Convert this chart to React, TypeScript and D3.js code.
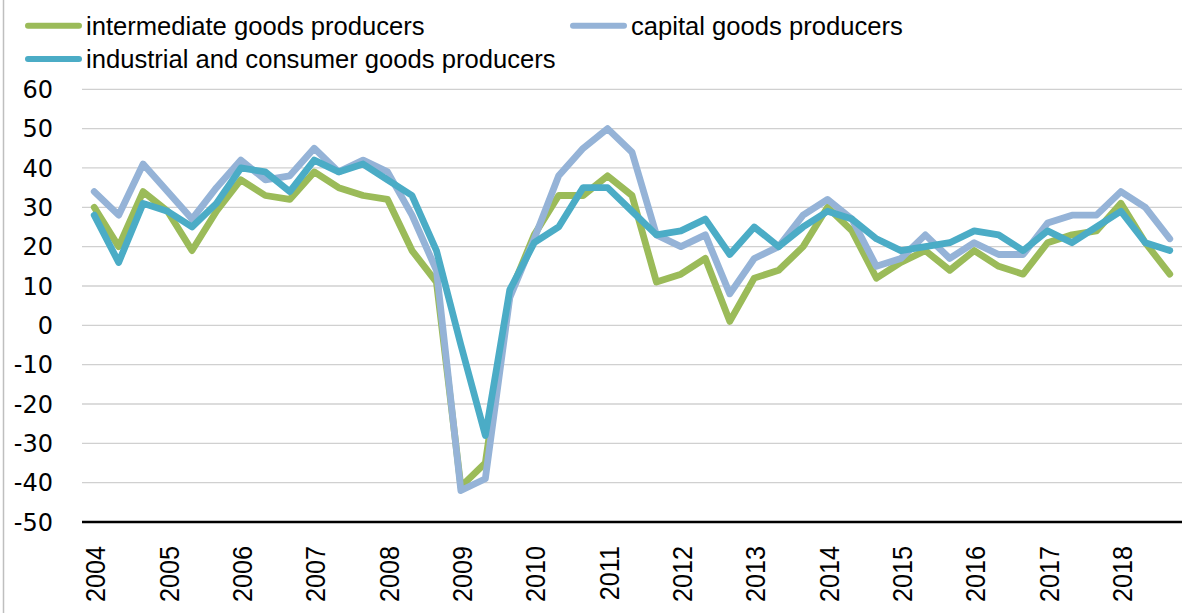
import React, { useEffect, useRef } from 'react';
import * as d3 from 'd3';

const years = ['2004', '2005', '2006', '2007', '2008', '2009', '2010', '2011', '2012', '2013', '2014', '2015', '2016', '2017', '2018'];
const periodsPerYear = 3;

const intermediate = [30, 20, 34, 29, 19, 29, 37, 33, 32, 39, 35, 33, 32, 19, 11, -41, -35, 8, 23, 33, 33, 38, 33, 11, 13, 17, 1, 12, 14, 20, 30, 24, 12, 16, 19, 14, 19, 15, 13, 21, 23, 24, 31, 21, 13];
const capital = [34, 28, 41, 34, 27, 35, 42, 37, 38, 45, 39, 42, 39, 28, 14, -42, -39, 7, 22, 38, 45, 50, 44, 23, 20, 23, 8, 17, 20, 28, 32, 27, 15, 17, 23, 17, 21, 18, 18, 26, 28, 28, 34, 30, 22];
const industrial = [28, 16, 31, 29, 25, 31, 40, 39, 34, 42, 39, 41, 37, 33, 19, -5, -28, 9, 21, 25, 35, 35, 29, 23, 24, 27, 18, 25, 20, 25, 29, 27, 22, 19, 20, 21, 24, 23, 19, 24, 21, 25, 29, 21, 19];

const yTicks = [60, 50, 40, 30, 20, 10, 0, -10, -20, -30, -40, -50];

const series = [
  { name: 'intermediate goods producers', values: intermediate, color: '#9BBB59' },
  { name: 'capital goods producers', values: capital, color: '#95B3D7' },
  { name: 'industrial and consumer goods producers', values: industrial, color: '#4BACC6' },
];

const W = 1203;
const H = 613;

export default function App() {
  const ref = useRef<SVGSVGElement | null>(null);

  useEffect(() => {
    const svg = d3.select(ref.current);
    svg.selectAll('*').remove();

    const left = 82, right = 1182, top = 89.3, bottom = 522;
    const idx = d3.range(intermediate.length);

    const x = d3.scaleBand<number>().domain(idx).range([left, right]).padding(0);
    const cx = (i: number) => (x(i) as number) + x.bandwidth() / 2;
    const y = d3.scaleLinear().domain([-50, 60]).range([bottom, top]);

    // frame edge on the left
    svg.append('line')
      .attr('x1', 3.5).attr('x2', 3.5).attr('y1', 0).attr('y2', H)
      .attr('stroke', '#BFBFBF').attr('stroke-width', 1.5);

    // gridlines
    svg.append('g').selectAll('line')
      .data(yTicks.filter(t => t !== -50)).enter().append('line')
      .attr('x1', left).attr('x2', right)
      .attr('y1', d => y(d)).attr('y2', d => y(d))
      .attr('stroke', '#D0D0D0').attr('stroke-width', 1.3);

    // y labels
    svg.append('g').selectAll('text')
      .data(yTicks).enter().append('text')
      .attr('x', 53).attr('y', d => y(d))
      .attr('dy', '0.36em')
      .attr('text-anchor', 'end')
      .style('font-family', '"DejaVu Sans", sans-serif')
      .style('font-size', '24px')
      .style('fill', '#000')
      .text(d => String(d));

    // x axis line
    svg.append('line')
      .attr('x1', left).attr('x2', right)
      .attr('y1', y(-50)).attr('y2', y(-50))
      .attr('stroke', '#000').attr('stroke-width', 2.6);

    // year labels, one every 3 periods (narrowed a bit along the text)
    svg.append('g').selectAll('text')
      .data(years).enter().append('text')
      .attr('transform', (d, i) => `translate(${cx(i * periodsPerYear) + 1},${bottom + 24}) rotate(-90) scale(0.9,1)`)
      .attr('dy', '0.36em')
      .attr('text-anchor', 'end')
      .style('font-family', '"Liberation Sans", Arial, sans-serif')
      .style('font-size', '28px')
      .style('fill', '#000')
      .text(d => d);

    // lines
    const line = d3.line<number>().x((d, i) => cx(i)).y(d => y(d));
    series.forEach(s => {
      svg.append('path')
        .datum(s.values)
        .attr('d', line)
        .attr('fill', 'none')
        .attr('stroke', s.color)
        .attr('stroke-width', 6.8)
        .attr('stroke-linejoin', 'round')
        .attr('stroke-linecap', 'round');
    });

    // legend
    const legendPos = [
      { x: 28, y: 25.7 },
      { x: 573, y: 25.7 },
      { x: 28, y: 59 },
    ];
    const lg = svg.append('g');
    series.forEach((s, i) => {
      const p = legendPos[i];
      lg.append('line')
        .attr('x1', p.x).attr('x2', p.x + 51)
        .attr('y1', p.y).attr('y2', p.y)
        .attr('stroke', s.color).attr('stroke-width', 6)
        .attr('stroke-linecap', 'round');
      lg.append('text')
        .attr('x', p.x + 58).attr('y', p.y + 9.3)
        .style('font-family', '"Liberation Sans", Arial, sans-serif')
        .style('font-size', '25.6px')
        .style('fill', '#000')
        .text(s.name);
    });
  }, []);

  return (
    <div style={{ position: 'fixed', left: 0, top: 0, background: '#fff' }}>
      <svg ref={ref} width={W} height={H} style={{ display: 'block' }} />
    </div>
  );
}
